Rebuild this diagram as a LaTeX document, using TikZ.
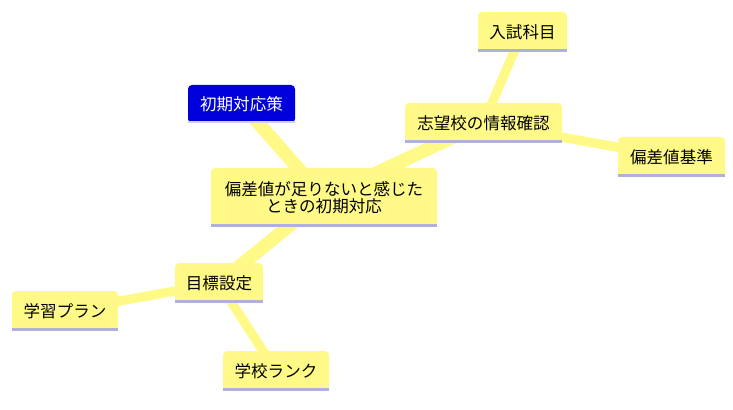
\documentclass[tikz,border=0pt]{standalone}
\usepackage{fontspec}
\setmainfont{Noto Sans CJK JP}
\usetikzlibrary{backgrounds}
\definecolor{nodeyellow}{RGB}{255,250,135}
\definecolor{lineyellow}{RGB}{255,250,135}
\definecolor{lavender}{RGB}{176,176,220}
\definecolor{deepblue}{RGB}{0,0,220}
\tikzset{
  box/.style={fill=nodeyellow, rounded corners=3pt, inner sep=0pt, align=center,
    font=\fontsize{12.4}{13}\selectfont, text=black},
  bluebox/.style={box, fill=deepblue, text=white},
  mainlink/.style={draw=lineyellow, line width=10pt},
  sublink/.style={draw=lineyellow, line width=7pt},
  shade/.style={fill=lavender}
}
\newcommand{\boxshade}[1]{\fill[shade] ([yshift=2.25pt]#1.south west) rectangle (#1.south east);}
\begin{document}
\begin{tikzpicture}[x=0.75pt,y=-0.75pt]
\useasboundingbox (0,0) rectangle (733,410);
\node[box, minimum width=169.5pt, minimum height=44.25pt] (root) at (324,197.5) {偏差値が足りないと感じた\\ときの初期対応};
\node[bluebox, minimum width=80.25pt, minimum height=28.5pt] (init) at (241.5,104) {初期対応策};
\node[box, minimum width=117.75pt, minimum height=30pt] (info) at (483.5,123) {志望校の情報確認};
\node[box, minimum width=66.75pt, minimum height=30pt] (subj) at (522.5,32) {入試科目};
\node[box, minimum width=80.25pt, minimum height=30pt] (dev) at (671.5,157) {偏差値基準};
\node[box, minimum width=66pt, minimum height=30pt] (goal) at (219,283) {目標設定};
\node[box, minimum width=79.5pt, minimum height=30pt] (plan) at (65,311) {学習プラン};
\node[box, minimum width=79.5pt, minimum height=30pt] (rank) at (276,371) {学校ランク};
\foreach \n in {root,info,subj,dev,goal,plan,rank}{\boxshade{\n}}
\fill[lavender!60!white] ([yshift=1.5pt]init.south west) rectangle (init.south east);
\begin{scope}[on background layer]
\draw[mainlink] (root.center) -- (init.center);
\draw[mainlink] (root.center) -- (info.center);
\draw[mainlink] (root.center) -- (goal.center);
\draw[sublink] (info.center) -- (subj.center);
\draw[sublink] (info.center) -- (dev.center);
\draw[sublink] (goal.center) -- (plan.center);
\draw[sublink] (goal.center) -- (rank.center);
\end{scope}
\end{tikzpicture}
\end{document}
